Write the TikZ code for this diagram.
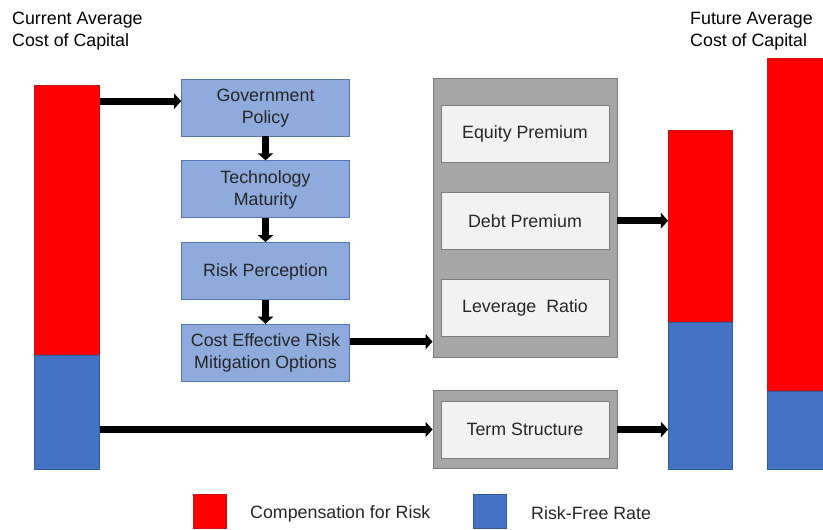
\documentclass[tikz,border=0pt]{standalone}
\usepackage{fontspec}
\setmainfont{Liberation Sans}
\usepackage{tikz}
\usetikzlibrary{
  positioning,
  arrows.meta
}
\definecolor{riskred}{RGB}{255,0,0}
\definecolor{riskborder}{RGB}{200,20,20}
\definecolor{freeblue}{RGB}{68,114,196}
\definecolor{freeborder}{RGB}{52,90,160}
\definecolor{drivbg}{RGB}{143,170,220}
\definecolor{drivborder}{RGB}{82,118,182}
\definecolor{panelbg}{RGB}{166,166,166}
\definecolor{panelborder}{RGB}{125,125,125}
\definecolor{itembg}{RGB}{242,242,242}
\definecolor{textcol}{RGB}{38,38,38}
\tikzset{
  basefont/.style={
    font=\fontsize{15.2}{18.8}\selectfont, text=textcol
  },
  drivbox/.style={
    basefont, draw=drivborder, fill=drivbg, line width=0.6pt,
    minimum width=5.04cm, minimum height=1.71cm,
    align=center, inner sep=2pt, text depth=2pt
  },
  panelbox/.style={
    draw=panelborder, fill=panelbg, line width=0.8pt,
    minimum width=5.52cm, inner sep=0pt
  },
  itembox/.style={
    basefont, draw=panelborder, fill=itembg, line width=0.6pt,
    minimum width=5.04cm, minimum height=1.71cm,
    align=center, inner sep=2pt
  },
  riskbar/.style={
    draw=riskborder, fill=riskred, line width=0.5pt,
    minimum width=1.95cm, inner sep=0pt
  },
  freebar/.style={
    draw=freeborder, fill=freeblue, line width=0.5pt,
    minimum width=1.95cm, inner sep=0pt
  },
  bigarrow/.style={
    -{Triangle[length=6pt,width=13pt]}, line width=6pt, draw=black
  },
  titletext/.style={
    basefont, text=black, align=left, inner sep=0pt
  }
}

\begin{document}
\begin{tikzpicture}[x=0.03cm, y=-0.03cm, node distance=0.72cm]
  \clip (0,0) rectangle (823,529);
  \fill[white] (0,0) rectangle (823,529);

  % titles
  \node[titletext, anchor=west] (curTitle) at (12,31) {Current Average\\Cost of Capital};
  \node[titletext, anchor=west] (futTitle) at (690,31) {Future Average\\Cost of Capital};

  % current cost of capital bar
  \node[riskbar, minimum height=8.07cm, anchor=north west] (curRisk) at (34,85) {};
  \node[freebar, minimum height=3.42cm, below=0pt of curRisk] (curFree) {};

  % drivers
  \node[drivbox] (gov) at (265.5,107.5) {Government\\Policy};
  \node[drivbox, below=of gov] (tech) {Technology\\Maturity};
  \node[drivbox, below=of tech] (riskp) {Risk Perception};
  \node[drivbox, below=of riskp] (mitig) {Cost Effective Risk\\Mitigation Options};

  % premium panel
  \node[panelbox, minimum height=8.37cm] (panel) at (525,217.5) {};
  \node[itembox] (equity) at (525,134) {Equity Premium};
  \node[itembox, below=0.87cm of equity] (debt) {Debt Premium};
  \node[itembox, below=0.87cm of debt] (lever) {Leverage\ \ Ratio};

  % term structure
  \node[panelbox, minimum height=2.34cm] (termPanel) at (525,429.5) {};
  \node[itembox] (term) at (525,429.5) {Term Structure};

  % future cost of capital bars
  \node[riskbar, minimum width=1.92cm, minimum height=5.73cm, anchor=north west] (midRisk) at (668,130) {};
  \node[freebar, minimum width=1.92cm, minimum height=4.41cm, below=0pt of midRisk] (midFree) {};
  \node[riskbar, minimum height=9.96cm, anchor=north west] (futRisk) at (767,58) {};
  \node[freebar, minimum height=2.34cm, below=0pt of futRisk] (futFree) {};

  % arrows
  \draw[bigarrow] ([yshift=0.19cm]gov.west -| curRisk.east) -- ([yshift=0.19cm]gov.west);
  \draw[bigarrow] (gov) -- (tech);
  \draw[bigarrow] (tech) -- (riskp);
  \draw[bigarrow] (riskp) -- (mitig);
  \draw[bigarrow] ([yshift=0.33cm]mitig.east) -- ([yshift=0.33cm]mitig.east -| panel.west);
  \draw[bigarrow] (debt.east -| panel.east) -- (debt.east -| midRisk.west);
  \draw[bigarrow] (termPanel.west -| curFree.east) -- (termPanel.west);
  \draw[bigarrow] (termPanel.east) -- (termPanel.east -| midFree.west);

  % legend
  \node[riskbar, minimum width=0.99cm, minimum height=1.02cm] (keyRisk) at (209.5,511) {};
  \node[basefont, anchor=west, inner sep=0pt] (keyRiskText) at (250,513.5) {Compensation for Risk};
  \node[freebar, minimum width=0.99cm, minimum height=1.02cm] (keyFree) at (489.5,511) {};
  \node[basefont, anchor=west, inner sep=0pt] (keyFreeText) at (531,513.5) {Risk-Free Rate};
\end{tikzpicture}
\end{document}
